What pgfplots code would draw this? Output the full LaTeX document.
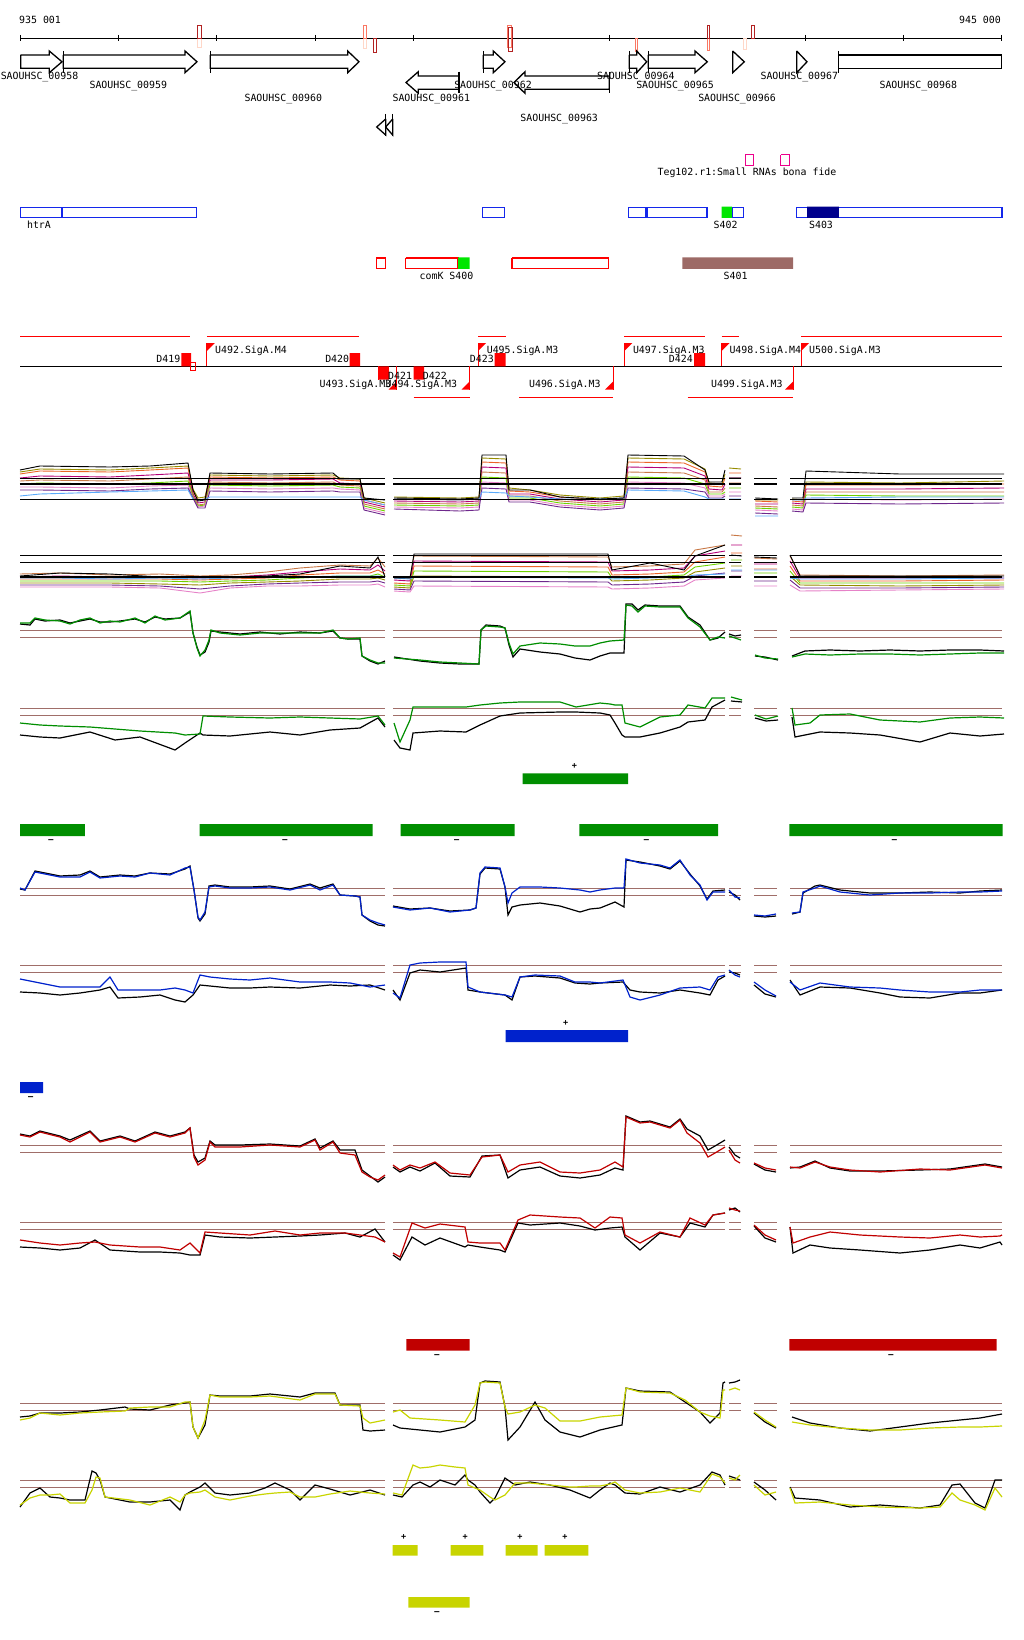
\documentclass[border=0pt]{standalone}
\usepackage{fontspec}
\newfontfamily\mono{DejaVu Sans Mono}
\usepackage{pgfplots}
\usepackage{pgfplotstable}
\pgfplotsset{compat=1.18}

\definecolor{ca}{RGB}{150,140,0}
\definecolor{cb}{RGB}{235,100,40}
\definecolor{cc}{RGB}{180,0,120}
\definecolor{cd}{RGB}{200,120,70}
\definecolor{ce}{RGB}{110,210,0}
\definecolor{cf}{RGB}{230,130,200}
\definecolor{cg}{RGB}{110,40,140}
\definecolor{ch}{RGB}{90,170,250}
\definecolor{tgreen}{RGB}{0,142,0}
\definecolor{tblue}{RGB}{0,34,204}
\definecolor{tred}{RGB}{192,0,0}
\definecolor{tyel}{RGB}{200,212,0}
\definecolor{thr}{RGB}{160,110,105}
\definecolor{fblue}{RGB}{20,40,235}
\definecolor{fnavy}{RGB}{0,0,140}
\definecolor{fgreen}{RGB}{0,230,0}
\definecolor{fbrown}{RGB}{157,106,102}
\definecolor{mdark}{RGB}{178,34,34}
\definecolor{msalmon}{RGB}{250,120,100}
\definecolor{mpink}{RGB}{255,215,200}

% tiling tracks, one column per sample
\pgfplotstableread{
x a b c d e f g h k
20 472 474 478 481 484 487 490 496 470
40 469 471 476 480 483 487 490 494 466
110 470 472 477 481 484 488 491 492 467
150 468 470 475 479 483 486 489 491 466
188 466 468 473 477 481 485 488 490 463
193 489 492 494 496 497 498 498 499 490
198 498 500 503 505 506 507 508 500 501
205 497 499 502 504 505 506 508 499 500
210 475 477 480 482 485 488 491 497 473
270 476 478 480 483 486 489 492 497 474
333 475 477 479 482 485 488 491 497 473
340 478 480 483 485 487 489 492 497 479
360 479 481 484 486 488 490 492 497 479
364 498 500 502 504 506 508 510 500 498
385 503 505 507 509 511 513 515 505 500
nan nan nan nan nan nan nan nan nan nan
394 497 499 501 503 505 507 509 499 498
460 498 500 502 504 506 508 511 500 499
479 497 499 501 503 505 507 510 499 498
482 458 462 467 472 477 482 488 492 455
506 459 463 468 473 478 483 489 493 455
509 488 491 494 496 498 500 502 496 490
530 490 492 494 496 498 500 502 497 490
560 495 497 499 501 503 505 507 499 497
600 498 500 502 504 506 508 510 499 499
624 496 498 500 502 504 506 508 498 498
628 458 462 467 472 477 482 488 490 455
684 459 463 468 473 478 483 489 491 456
705 469 472 476 480 484 488 492 497 470
709 483 486 489 492 494 496 498 499 482
722 484 487 490 492 494 496 498 499 482
725 474 478 484 488 492 494 496 499 470
nan nan nan nan nan nan nan nan nan nan
729 468 473 478 483 488 492 496 499 478
741 469 473 478 483 488 492 496 499 478
nan nan nan nan nan nan nan nan nan nan
755 500 501 504 506 508 510 513 516 498
778 500 502 504 507 509 511 514 516 499
nan nan nan nan nan nan nan nan nan nan
792 499 501 503 505 507 509 511 500 498
803 500 502 504 506 508 510 512 500 498
806 482 485 489 492 495 499 503 498 471
900 483 485 489 492 496 500 504 497 474
1004 481 484 488 492 496 499 503 497 474
}\tabAone

\pgfplotstableread{
x a b c d e f g h k
20 574 577 579 581 583 585 587 578 576
60 573 576 579 581 583 585 587 578 573
110 575 577 579 581 583 585 587 579 574
160 574 577 579 581 584 586 588 578 577
200 576 578 580 582 585 589 593 579 577
230 575 577 579 581 583 586 588 578 577
267 572 575 578 580 582 584 586 577 576
300 568 572 575 578 581 583 586 577 574
340 565 569 573 576 579 582 585 576 566
370 566 570 573 576 579 582 585 576 568
378 558 565 570 574 578 581 584 576 557
385 567 571 574 577 580 583 587 577 577
nan nan nan nan nan nan nan nan nan nan
394 577 580 583 585 587 589 591 578 578
410 578 581 584 586 588 590 592 579 578
414 556 561 566 571 576 581 586 577 554
608 557 562 567 572 577 582 587 578 554
612 567 571 575 578 581 585 589 579 570
650 566 570 574 577 580 584 588 578 563
684 564 568 572 575 578 582 586 577 570
695 550 556 562 567 572 576 580 575 556
725 545 551 557 563 568 573 578 574 545
nan nan nan nan nan nan nan nan nan nan
731 535 545 553 560 566 571 576 570 555
742 536 545 553 560 566 571 576 570 556
nan nan nan nan nan nan nan nan nan nan
754 558 564 569 573 577 581 586 570 557
777 559 564 569 573 577 581 586 570 558
nan nan nan nan nan nan nan nan nan nan
790 556 561 566 571 576 580 585 578 555
800 575 578 581 583 585 588 591 579 576
900 576 578 581 583 586 588 590 579 576
1004 575 578 580 583 585 587 589 578 576
}\tabAtwo

% two-colour tracks: c = coloured sample, k = black sample
\pgfplotstableread{
x c k
20 623 624
30 623 625
35 618 619
45 620 621
60 621 620
70 624 623
80 620 621
90 618 619
100 623 622
110 621 622
120 622 621
135 618 619
145 623 622
155 616 617
165 620 619
180 618 618
190 611 612
193 633 633
197 648 647
200 656 655
205 650 652
209 640 642
211 630 631
220 633 632
240 635 634
260 633 632
280 633 634
300 633 632
320 633 633
333 630 631
340 638 638
348 639 639
360 638 639
362 656 656
370 660 661
378 663 664
385 663 661
nan nan nan
394 658 657
420 660 661
440 662 663
460 663 664
479 664 664
481 630 630
486 626 625
500 627 626
505 628 628
509 643 645
513 654 657
520 646 649
540 643 652
560 644 654
575 646 658
590 646 660
600 643 656
610 641 653
624 640 653
626 605 604
632 606 604
638 612 610
645 606 605
660 607 606
680 607 606
688 618 617
700 627 625
710 640 640
718 637 638
725 638 632
nan nan nan
729 636 634
735 638 636
741 640 635
nan nan nan
755 655 656
765 658 657
778 659 660
nan nan nan
792 657 656
805 654 651
830 655 650
860 654 651
890 654 650
920 655 651
950 654 650
980 653 650
1004 653 651
}\tabGone

\pgfplotstableread{
x c k
20 723 735
40 725 737
60 726 738
90 727 732
115 729 740
140 731 737
175 733 750
185 735 743
200 734 733
203 716 735
230 717 736
270 718 732
300 717 735
330 718 730
360 719 728
378 716 718
385 725 727
nan nan nan
394 723 740
400 742 748
410 720 750
413 707 733
440 707 731
466 707 732
480 705 725
500 703 716
520 702 713
560 702 712
576 707 712
600 703 713
610 704 715
615 705 723
622 705 735
625 723 737
640 727 737
660 717 733
680 715 727
688 705 722
705 708 720
712 698 707
725 698 700
nan nan nan
731 697 701
742 700 702
nan nan nan
755 715 718
766 719 721
778 716 720
nan nan nan
792 708 717
795 725 737
810 723 734
820 715 732
850 714 733
880 720 735
920 722 742
950 718 733
980 717 736
1004 718 734
}\tabGtwo

\pgfplotstableread{
x c k
20 888 889
25 890 890
35 872 871
50 875 874
60 877 876
80 877 875
90 872 871
100 878 877
120 876 875
135 877 876
150 873 873
170 875 874
185 868 869
190 867 866
194 890 890
198 917 918
200 920 921
205 912 914
209 887 886
215 886 885
230 888 887
250 888 887
270 887 886
290 890 889
310 885 884
320 890 888
333 885 884
340 895 895
355 896 896
360 897 897
362 915 915
370 920 921
378 923 925
385 925 926
nan nan nan
393 907 906
410 910 909
430 908 908
450 912 911
470 910 910
476 908 908
480 873 874
485 867 868
500 868 869
505 887 887
508 903 915
512 893 907
520 887 905
540 887 903
560 888 906
580 890 912
590 892 909
600 890 908
615 888 902
624 888 907
626 859 860
640 863 862
660 865 866
670 868 869
680 860 861
690 875 874
700 885 886
707 900 899
713 892 891
725 892 890
nan nan nan
729 890 892
735 897 895
740 898 900
nan nan nan
754 915 916
765 916 917
776 914 916
nan nan nan
792 913 914
800 912 912
803 892 893
815 888 886
820 886 885
840 892 890
870 895 893
900 893 893
930 893 892
960 892 893
980 892 891
1002 891 890
}\tabBone

\pgfplotstableread{
x c k
20 979 992
40 983 993
60 987 995
80 987 993
100 987 990
110 977 987
118 990 998
140 990 997
160 990 995
175 988 1000
185 990 1002
193 993 995
200 975 985
210 977 986
230 979 988
250 980 988
270 978 987
300 982 988
330 982 985
350 983 986
370 987 985
385 985 990
nan nan nan
393 993 990
400 998 1000
410 965 973
420 963 970
440 962 972
466 962 968
468 987 990
480 992 992
505 995 995
512 997 1000
520 977 977
535 975 976
560 976 978
575 982 983
590 982 984
600 983 983
623 980 982
630 997 990
640 1000 992
660 995 993
680 988 990
700 987 993
710 990 995
718 977 980
725 975 976
nan nan nan
729 970 972
735 975 973
740 977 975
nan nan nan
754 982 985
765 990 994
776 996 997
nan nan nan
790 982 980
800 990 995
820 983 987
850 987 988
880 988 993
900 990 997
930 992 998
960 992 993
980 990 993
1002 990 990
}\tabBtwo

\pgfplotstableread{
x c k
20 1135 1134
30 1137 1136
40 1132 1131
60 1137 1136
70 1142 1140
90 1132 1131
100 1142 1141
120 1137 1136
135 1142 1141
155 1133 1132
170 1137 1136
185 1133 1132
190 1128 1128
194 1157 1155
198 1165 1162
205 1160 1158
210 1142 1141
215 1147 1145
240 1147 1145
270 1145 1144
300 1147 1146
315 1140 1139
320 1150 1148
333 1142 1141
340 1153 1150
355 1155 1150
362 1172 1170
370 1177 1176
378 1180 1182
385 1175 1177
nan nan nan
393 1165 1167
400 1170 1172
410 1165 1167
420 1168 1171
435 1162 1163
450 1173 1176
470 1175 1177
482 1157 1156
500 1155 1155
508 1172 1178
520 1165 1170
540 1162 1167
560 1172 1176
580 1173 1178
600 1170 1175
615 1162 1168
623 1167 1170
626 1117 1116
640 1123 1122
650 1122 1121
670 1128 1127
680 1120 1119
687 1133 1129
700 1143 1136
708 1157 1150
715 1153 1146
725 1147 1140
nan nan nan
729 1150 1147
735 1160 1155
740 1163 1158
nan nan nan
754 1163 1164
765 1168 1170
776 1170 1172
nan nan nan
790 1167 1168
800 1168 1167
815 1162 1161
830 1167 1168
850 1170 1171
880 1172 1171
920 1169 1170
950 1170 1169
985 1165 1164
1002 1168 1167
}\tabRone

\pgfplotstableread{
x c k
20 1240 1247
40 1243 1248
60 1245 1250
80 1243 1248
95 1242 1240
110 1245 1250
140 1247 1252
160 1247 1252
180 1250 1253
190 1243 1255
200 1253 1255
205 1232 1235
220 1233 1237
250 1235 1238
275 1231 1237
300 1235 1236
320 1233 1235
345 1233 1233
360 1235 1237
375 1237 1229
385 1242 1242
nan nan nan
393 1253 1255
400 1257 1260
412 1223 1237
425 1228 1245
440 1224 1238
465 1227 1247
468 1242 1245
480 1243 1247
500 1243 1250
505 1250 1252
518 1220 1223
530 1215 1225
560 1217 1223
580 1218 1226
595 1228 1230
610 1217 1228
622 1218 1227
625 1235 1237
640 1243 1250
660 1232 1233
680 1237 1237
690 1218 1223
705 1225 1227
713 1215 1215
725 1213 1213
nan nan nan
729 1208 1210
735 1210 1208
740 1211 1212
nan nan nan
754 1225 1226
765 1235 1238
776 1240 1242
nan nan nan
790 1227 1227
793 1243 1253
810 1237 1245
830 1232 1248
860 1235 1250
900 1237 1253
930 1238 1250
960 1235 1245
980 1237 1248
1000 1236 1242
1002 1235 1245
}\tabRtwo

\pgfplotstableread{
x c k
20 1420 1417
30 1418 1416
40 1413 1413
60 1415 1413
80 1413 1412
100 1412 1410
125 1411 1407
130 1408 1409
150 1407 1410
170 1407 1405
185 1402 1403
190 1402 1402
193 1427 1427
198 1438 1438
205 1420 1425
210 1395 1395
220 1397 1396
250 1397 1396
270 1396 1394
300 1400 1397
315 1394 1393
335 1394 1393
340 1405 1405
360 1406 1405
363 1418 1430
370 1423 1431
385 1420 1430
nan nan nan
393 1412 1425
400 1410 1428
410 1418 1429
440 1420 1432
465 1422 1427
475 1405 1420
480 1383 1383
485 1382 1381
500 1383 1382
505 1407 1407
508 1414 1440
520 1412 1427
535 1405 1402
545 1408 1420
560 1421 1432
580 1421 1437
600 1417 1430
622 1415 1425
626 1388 1388
640 1392 1391
670 1393 1392
685 1400 1402
700 1412 1412
710 1416 1423
720 1418 1413
723 1390 1383
725 1390 1382
nan nan nan
729 1390 1383
735 1388 1382
740 1390 1380
nan nan nan
754 1412 1413
765 1420 1422
776 1427 1428
nan nan nan
792 1422 1417
810 1425 1423
840 1428 1428
870 1430 1431
900 1430 1427
930 1428 1423
960 1427 1420
980 1427 1418
1002 1426 1414
}\tabYone

\pgfplotstableread{
x c k
20 1505 1507
30 1498 1493
40 1495 1488
50 1495 1497
60 1494 1498
70 1503 1500
85 1503 1500
92 1490 1471
96 1477 1473
100 1478 1480
105 1497 1497
130 1500 1502
150 1505 1502
170 1497 1500
180 1502 1510
185 1495 1495
190 1493 1492
200 1492 1487
205 1490 1483
215 1497 1493
230 1500 1495
250 1496 1493
265 1494 1488
275 1493 1483
290 1492 1490
300 1497 1500
315 1497 1485
330 1494 1489
350 1491 1495
370 1493 1490
385 1494 1495
nan nan nan
393 1493 1495
402 1495 1497
413 1465 1485
420 1468 1482
430 1467 1487
440 1465 1480
455 1467 1485
465 1468 1475
468 1485 1480
475 1488 1485
480 1490 1492
490 1497 1503
495 1500 1498
505 1495 1478
515 1483 1485
530 1483 1482
550 1485 1485
570 1487 1490
575 1487 1492
590 1486 1498
600 1486 1490
610 1484 1483
615 1482 1485
625 1490 1493
640 1493 1494
660 1492 1487
680 1488 1492
700 1492 1485
712 1474 1472
720 1477 1475
725 1483 1485
nan nan nan
729 1478 1476
735 1480 1478
740 1475 1480
nan nan nan
754 1485 1482
765 1495 1490
776 1492 1500
nan nan nan
790 1488 1487
795 1503 1498
820 1502 1500
850 1505 1507
880 1507 1505
920 1508 1508
940 1507 1505
952 1493 1485
960 1500 1484
975 1505 1503
985 1510 1508
995 1488 1480
1002 1497 1480
}\tabYtwo

\newcommand{\rect}[5]{\addplot[#5] coordinates {(#1,#3)(#2,#3)(#2,#4)(#1,#4)(#1,#3)};}
\newcommand{\vl}[4]{\addplot[#4] coordinates {(#1,#2)(#1,#3)};}
\newcommand{\hl}[4]{\addplot[#4] coordinates {(#1,#3)(#2,#3)};}
\newcommand{\thr}[2]{\addplot[#2] coordinates {(20,#1)(385,#1)(389,nan)(393,#1)(725,#1)(727,nan)(729,#1)(741,#1)(747,nan)(754,#1)(777,#1)(783,nan)(790,#1)(1002,#1)};}
\newcommand{\fwd}[3]{\addplot[gene] coordinates {(#1,55)(#2,55)(#2,51)(#3,61.8)(#2,72.7)(#2,68.3)(#1,68.3)(#1,55)};}
\newcommand{\rev}[3]{\addplot[gene] coordinates {(#3,76)(#2,76)(#2,71.7)(#1,82.5)(#2,93.3)(#2,89.3)(#3,89.3)(#3,76)};}
\newcommand{\upflag}[1]{\vl{#1}{343}{366.3}{red,line width=0.8pt}\addplot[fill=red,draw=none] coordinates {(#1,343)(#1+8,343)(#1,351)(#1,343)};}
\newcommand{\dnflag}[1]{\vl{#1}{366.3}{389.5}{red,line width=0.8pt}\addplot[fill=red,draw=none] coordinates {(#1,389.5)(#1-8,389.5)(#1,381.5)(#1,389.5)};}

\begin{document}
\begin{tikzpicture}[
  lab/.style={font=\mono\fontsize{9.9}{10}\selectfont, inner sep=0pt},
  sm/.style={font=\mono\bfseries\fontsize{8.5}{9}\selectfont, inner sep=0pt}]
\begin{axis}[width=1024pt, height=1640pt, scale only axis,
  xmin=0, xmax=1024, ymin=0, ymax=1640, y dir=reverse,
  hide axis, clip=false, unbounded coords=jump,
  gene/.style={black, line width=1.3pt, fill=white, line join=miter}]

\path (axis cs:0,0) rectangle (axis cs:1024,1640);

% ruler
\hl{20.7}{1001.7}{38.3}{black, line width=1.3pt}
\addplot[black, line width=1pt] coordinates {(20.7,35)(20.7,41.5)(118.8,nan)(118.8,35)(118.8,41.5)(216.9,nan)(216.9,35)(216.9,41.5)(315,nan)(315,35)(315,41.5)(413.1,nan)(413.1,35)(413.1,41.5)(511.2,nan)(511.2,35)(511.2,41.5)(609.3,nan)(609.3,35)(609.3,41.5)(707.4,nan)(707.4,35)(707.4,41.5)(805.5,nan)(805.5,35)(805.5,41.5)(903.6,nan)(903.6,35)(903.6,41.5)(1001.7,nan)(1001.7,35)(1001.7,41.5)};
\node[lab, anchor=base west] at (axis cs:19,24) {935 001};
\node[lab, anchor=base east] at (axis cs:1001,24) {945 000};

\rect{197.3}{201.3}{38.3}{48}{mpink, line width=1pt}
\rect{197.3}{201.3}{25.3}{38.3}{mdark, line width=1pt}
\rect{363.3}{366.7}{38.3}{49}{mpink, line width=1pt}
\rect{363.3}{366.7}{25.3}{38.3}{msalmon, line width=1pt}
\rect{373.3}{376}{38.3}{52.3}{mdark, line width=1pt}
\rect{507.3}{511}{25.3}{48}{msalmon, line width=1pt}
\rect{508.3}{512.3}{28}{52}{mdark, line width=1pt}
\rect{635}{637.7}{38.3}{51.7}{msalmon, line width=1pt}
\rect{707}{709.7}{38.3}{50.7}{msalmon, line width=1pt}
\rect{707}{709.7}{25.3}{38.3}{mdark, line width=1pt}
\rect{743.7}{746.7}{38.3}{50}{mpink, line width=1pt}
\rect{751.7}{754}{25.3}{38.3}{mdark, line width=1pt}

% genes
\fwd{20.7}{49.3}{62}
\fwd{63.3}{185}{197}
\vl{63.3}{51}{72.7}{black, line width=1.3pt}
\fwd{210.3}{347.7}{359}
\vl{210.3}{51}{72.7}{black, line width=1.3pt}
\fwd{483.3}{493.3}{505}
\vl{483.3}{51}{72.7}{black, line width=1.3pt}
\fwd{629.3}{636.7}{646.7}
\vl{629.3}{51}{72.7}{black, line width=1.3pt}
\fwd{648.3}{695}{707.3}
\vl{648.3}{51}{72.7}{black, line width=1.3pt}
\addplot[gene] coordinates {(732.7,51)(744.3,61.8)(732.7,72.7)(732.7,51)};
\addplot[gene] coordinates {(796.7,51)(807,61.8)(796.7,72.7)(796.7,51)};
\rect{838.7}{1001.7}{55}{68.3}{gene}
\vl{838.7}{51}{72.7}{black, line width=1.3pt}
\rev{406}{418.3}{459}
\vl{459}{71.7}{93.3}{black, line width=1.3pt}
\rev{514}{525}{609.3}
\vl{609.3}{71.7}{93.3}{black, line width=1.3pt}
\addplot[gene] coordinates {(385.7,119)(376.7,127)(385.7,135)(385.7,119)};
\addplot[gene] coordinates {(392.7,119)(385.7,127)(392.7,135)(392.7,119)};
\vl{385.7}{114}{136}{black, line width=1.3pt}
\vl{392.7}{114}{136}{black, line width=1.3pt}

\node[lab, anchor=base] at (axis cs:39.5,80) {SAOUHSC\_00958};
\node[lab, anchor=base] at (axis cs:128.3,89) {SAOUHSC\_00959};
\node[lab, anchor=base] at (axis cs:283.3,101.3) {SAOUHSC\_00960};
\node[lab, anchor=base] at (axis cs:431.3,101.3) {SAOUHSC\_00961};
\node[lab, anchor=base] at (axis cs:493,89) {SAOUHSC\_00962};
\node[lab, anchor=base] at (axis cs:559.2,122) {SAOUHSC\_00963};
\node[lab, anchor=base] at (axis cs:635.8,80) {SAOUHSC\_00964};
\node[lab, anchor=base] at (axis cs:675,89) {SAOUHSC\_00965};
\node[lab, anchor=base] at (axis cs:737,101.3) {SAOUHSC\_00966};
\node[lab, anchor=base] at (axis cs:799.3,80) {SAOUHSC\_00967};
\node[lab, anchor=base] at (axis cs:918.3,89) {SAOUHSC\_00968};

% small RNAs
\rect{745}{753.4}{155}{166}{magenta, line width=1pt}
\rect{780.8}{789.3}{155}{166}{magenta, line width=1pt}
\node[lab, anchor=base] at (axis cs:747,176) {Teg102.r1:Small RNAs bona fide};

% blue features
\rect{20.2}{62}{207.3}{217.3}{fblue, line width=1.3pt}
\rect{62.6}{196.3}{207.3}{217.3}{fblue, line width=1.3pt}
\rect{482.7}{504.2}{207.3}{217.3}{fblue, line width=1.3pt}
\rect{628.2}{645.8}{207.3}{217.3}{fblue, line width=1.3pt}
\rect{647}{707.1}{207.3}{217.3}{fblue, line width=1.3pt}
\rect{721.5}{731.9}{206.7}{217.9}{fill=fgreen, draw=none}
\rect{732.6}{743.6}{207.3}{217.3}{fblue, line width=1.3pt}
\rect{796.5}{1002}{207.3}{217.3}{fblue, line width=1.3pt}
\rect{807}{838.9}{206.7}{217.9}{fill=fnavy, draw=none}
\node[lab, anchor=base] at (axis cs:39,228) {htrA};
\node[lab, anchor=base] at (axis cs:725.6,228) {S402};
\node[lab, anchor=base] at (axis cs:821,228) {S403};

% red features
\rect{376.4}{385.5}{258}{268.3}{red, line width=1.3pt}
\rect{405.7}{458}{258}{268.3}{red, line width=1.3pt}
\rect{458}{469.7}{257.4}{268.9}{fill=fgreen, draw=none}
\rect{512}{608.6}{258}{268.3}{red, line width=1.3pt}
\rect{682.3}{793.2}{257.4}{268.9}{fill=fbrown, draw=none}
\node[lab, anchor=base] at (axis cs:446.5,279) {comK S400};
\node[lab, anchor=base] at (axis cs:735.6,279) {S401};

% promoters and terminators
\addplot[red, line width=1.2pt] coordinates {(20.2,336.3)(189.8,336.3)(195,nan)(206.8,336.3)(358.8,336.3)(365,nan)(478.1,336.3)(505.5,336.3)(510,nan)(624.3,336.3)(705.2,336.3)(710,nan)(721.5,336.3)(739.1,336.3)(745,nan)(801,336.3)(1002,336.3)};
\addplot[red, line width=1.2pt] coordinates {(413.6,397.3)(469.7,397.3)(475,nan)(519.2,397.3)(613.2,397.3)(620,nan)(687.5,397.3)(793.2,397.3)};
\hl{20.2}{1002}{366.3}{black, line width=1.3pt}
\upflag{206.8}
\upflag{478.1}
\upflag{624.3}
\upflag{721.5}
\upflag{801}
\dnflag{396.6}
\dnflag{469.7}
\dnflag{613.2}
\dnflag{793.2}
\vl{378.3}{366.3}{380}{red, line width=0.8pt}
\rect{181.3}{191.1}{353}{366.3}{fill=red, draw=none}
\rect{190}{195}{362}{370}{red, line width=0.8pt}
\rect{349.6}{360}{353}{366.3}{fill=red, draw=none}
\rect{494.5}{505.5}{353}{366.3}{fill=red, draw=none}
\rect{694}{705.2}{353}{366.3}{fill=red, draw=none}
\rect{378.3}{388.8}{366.3}{379.7}{fill=red, draw=none}
\rect{413.6}{424}{366.3}{379.7}{fill=red, draw=none}
\node[lab, anchor=base west] at (axis cs:215,353.7) {U492.SigA.M4};
\node[lab, anchor=base west] at (axis cs:486.6,353.7) {U495.SigA.M3};
\node[lab, anchor=base west] at (axis cs:632.8,353.7) {U497.SigA.M3};
\node[lab, anchor=base west] at (axis cs:729.3,353.7) {U498.SigA.M4};
\node[lab, anchor=base west] at (axis cs:809,353.7) {U500.SigA.M3};
\node[lab, anchor=base east] at (axis cs:391.4,387.3) {U493.SigA.M3};
\node[lab, anchor=base east] at (axis cs:457.3,387.3) {U494.SigA.M3};
\node[lab, anchor=base east] at (axis cs:600.8,387.3) {U496.SigA.M3};
\node[lab, anchor=base east] at (axis cs:782.8,387.3) {U499.SigA.M3};
\node[lab, anchor=base east] at (axis cs:180.5,362.3) {D419};
\node[lab, anchor=base east] at (axis cs:349.3,362.3) {D420};
\node[lab, anchor=base east] at (axis cs:494,362.3) {D423};
\node[lab, anchor=base east] at (axis cs:693,362.3) {D424};
\node[lab, anchor=base west] at (axis cs:388,379.7) {D421};
\node[lab, anchor=base west] at (axis cs:422.7,379.7) {D422};

% tiling track 1
\foreach \c/\col in {a/ca,b/cb,c/cc,d/cd,e/ce,f/cf,g/cg,h/ch}{
  \edef\tmp{\noexpand\addplot[\col, line width=0.9pt] table[x=x,y=\c]{\noexpand\tabAone};}\tmp
}
\addplot[black, line width=0.9pt] table[x=x,y=k]{\tabAone};
\thr{478.3}{black, line width=1.3pt}
\thr{484}{black, line width=1.3pt}
\thr{499.3}{black, line width=1.3pt}

% tiling track 2
\foreach \c/\col in {a/cd,b/cc,c/cb,d/ce,e/ca,f/cg,g/cf,h/ch}{
  \edef\tmp{\noexpand\addplot[\col, line width=0.9pt] table[x=x,y=\c]{\noexpand\tabAtwo};}\tmp
}
\addplot[black, line width=0.9pt] table[x=x,y=k]{\tabAtwo};
\thr{555.3}{black, line width=1.3pt}
\thr{562.3}{black, line width=1.3pt}
\thr{577}{black, line width=1.3pt}

% green tracks
\thr{630.3}{thr, line width=1.1pt}
\thr{637.3}{thr, line width=1.1pt}
\thr{708.3}{thr, line width=1.1pt}
\thr{715.3}{thr, line width=1.1pt}
\addplot[black, line width=1.2pt] table[x=x,y=k]{\tabGone};
\addplot[tgreen, line width=1.2pt] table[x=x,y=c]{\tabGone};
\addplot[black, line width=1.2pt] table[x=x,y=k]{\tabGtwo};
\addplot[tgreen, line width=1.2pt] table[x=x,y=c]{\tabGtwo};
\rect{522.5}{628.2}{773.3}{784}{fill=tgreen, draw=none}
\rect{20.2}{84.8}{824}{836}{fill=tgreen, draw=none}
\rect{199.6}{372.5}{824}{836}{fill=tgreen, draw=none}
\rect{400.5}{514.7}{824}{836}{fill=tgreen, draw=none}
\rect{579.3}{718.2}{824}{836}{fill=tgreen, draw=none}
\rect{789.3}{1002.6}{824}{836}{fill=tgreen, draw=none}
\node[sm] at (axis cs:574.3,766) {+};
\node[sm] at (axis cs:50.9,841) {–};
\node[sm] at (axis cs:285,841) {–};
\node[sm] at (axis cs:456.7,841) {–};
\node[sm] at (axis cs:646.4,841) {–};
\node[sm] at (axis cs:894.3,841) {–};

% blue tracks
\thr{888.3}{thr, line width=1.1pt}
\thr{895.3}{thr, line width=1.1pt}
\thr{965.3}{thr, line width=1.1pt}
\thr{972.3}{thr, line width=1.1pt}
\addplot[black, line width=1.2pt] table[x=x,y=k]{\tabBone};
\addplot[tblue, line width=1.2pt] table[x=x,y=c]{\tabBone};
\addplot[black, line width=1.2pt] table[x=x,y=k]{\tabBtwo};
\addplot[tblue, line width=1.2pt] table[x=x,y=c]{\tabBtwo};
\rect{505.5}{628.2}{1030}{1042}{fill=tblue, draw=none}
\rect{20.2}{43}{1082}{1093}{fill=tblue, draw=none}
\node[sm] at (axis cs:565.6,1023.3) {+};
\node[sm] at (axis cs:30.7,1098.3) {–};

% red tracks
\thr{1145.3}{thr, line width=1.1pt}
\thr{1152.3}{thr, line width=1.1pt}
\thr{1222.3}{thr, line width=1.1pt}
\thr{1229.3}{thr, line width=1.1pt}
\addplot[black, line width=1.2pt] table[x=x,y=k]{\tabRone};
\addplot[tred, line width=1.2pt] table[x=x,y=c]{\tabRone};
\addplot[black, line width=1.2pt] table[x=x,y=k]{\tabRtwo};
\addplot[tred, line width=1.2pt] table[x=x,y=c]{\tabRtwo};
\rect{406.4}{469.7}{1339}{1350.7}{fill=tred, draw=none}
\rect{789.3}{996.7}{1339}{1350.7}{fill=tred, draw=none}
\node[sm] at (axis cs:437,1356.3) {–};
\node[sm] at (axis cs:891,1356.3) {–};

% yellow tracks
\thr{1403.3}{thr, line width=1.1pt}
\thr{1410.3}{thr, line width=1.1pt}
\thr{1480.3}{thr, line width=1.1pt}
\thr{1487.3}{thr, line width=1.1pt}
\addplot[black, line width=1.2pt] table[x=x,y=k]{\tabYone};
\addplot[tyel, line width=1.2pt] table[x=x,y=c]{\tabYone};
\addplot[black, line width=1.2pt] table[x=x,y=k]{\tabYtwo};
\addplot[tyel, line width=1.2pt] table[x=x,y=c]{\tabYtwo};
\rect{392.7}{417.5}{1545}{1555.7}{fill=tyel, draw=none}
\rect{450.7}{483.4}{1545}{1555.7}{fill=tyel, draw=none}
\rect{505.5}{537.5}{1545}{1555.7}{fill=tyel, draw=none}
\rect{544.7}{588.4}{1545}{1555.7}{fill=tyel, draw=none}
\rect{408.4}{469.7}{1597}{1607.7}{fill=tyel, draw=none}
\node[sm] at (axis cs:403.8,1537.3) {+};
\node[sm] at (axis cs:465.1,1537.3) {+};
\node[sm] at (axis cs:520,1537.3) {+};
\node[sm] at (axis cs:565,1537.3) {+};
\node[sm] at (axis cs:437,1613.3) {–};
\end{axis}
\end{tikzpicture}
\end{document}
